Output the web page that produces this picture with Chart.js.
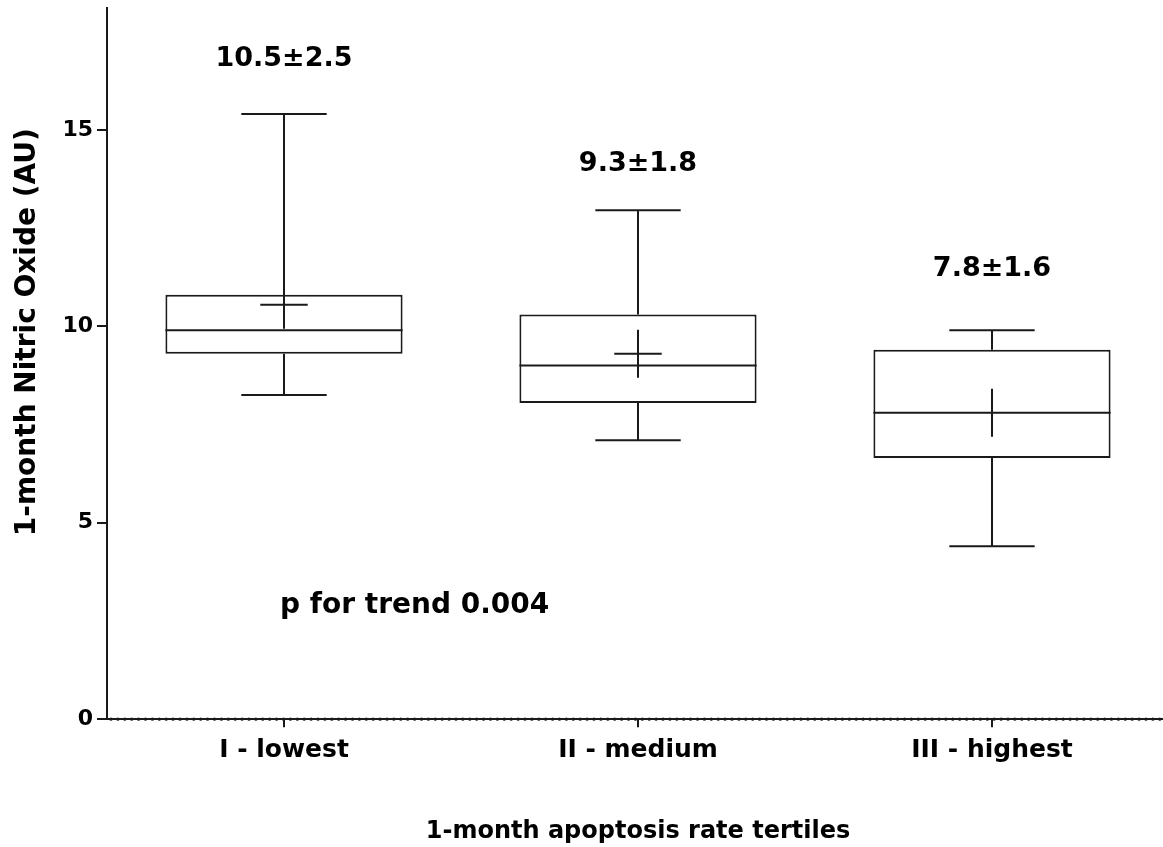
<!DOCTYPE html>
<html>
<head>
<meta charset="utf-8">
<title>1-month Nitric Oxide por tertiles de apoptosis</title>
<script src="https://cdn.jsdelivr.net/npm/chart.js@4.4.1/dist/chart.umd.min.js"></script>
<style>
  html, body { margin: 0; padding: 0; background: #ffffff; overflow: hidden; }
  canvas { display: block; }
</style>
</head>
<body>
<canvas id="boxChart" width="1169" height="847"></canvas>
<script>
// Categorías (tertiles)
const tertiles = ['I - lowest', 'II - medium', 'III - highest'];

// Valores del boxplot
const whiskerMin = [8.25, 7.1, 4.4];
const q1 = [9.3, 8.05, 6.65];
const median = [9.9, 9.0, 7.8];
const q3 = [10.8, 10.3, 9.4];
const whiskerMax = [15.4, 12.95, 9.9];
const mean = [10.55, 9.3, 7.8];

// Etiquetas media ± DE y su altura (en unidades del eje y)
const meanLabels = ['10.5±2.5', '9.3±1.8', '7.8±1.6'];
const meanLabelY = [16.8, 14.13, 11.47];
const trendText = 'p for trend 0.004';
const trendY = 2.9;

const yTicks = [0, 5, 10, 15];
const yTitle = '1-month Nitric Oxide (AU)';

const FONT = "'DejaVu Sans', Verdana, sans-serif";
const INK = '#1a1a1a';

// Bigotes, mediana, cruz de la media y textos
const boxExtras = {
    id: 'boxExtras',
    afterDatasetsDraw(chart) {
        const ctx = chart.ctx;
        const yScale = chart.scales.y;
        const meta = chart.getDatasetMeta(0);
        ctx.save();
        ctx.strokeStyle = INK;
        ctx.lineWidth = 2;
        meta.data.forEach((bar, i) => {
            const cx = bar.x;
            const half = bar.width / 2;
            const capHalf = bar.width * 0.18;
            const crossHalfW = bar.width * 0.1;
            const crossHalfH = 24;
            const pMin = yScale.getPixelForValue(whiskerMin[i]);
            const pQ1 = yScale.getPixelForValue(q1[i]);
            const pMed = yScale.getPixelForValue(median[i]);
            const pQ3 = yScale.getPixelForValue(q3[i]);
            const pMax = yScale.getPixelForValue(whiskerMax[i]);
            const pMean = yScale.getPixelForValue(mean[i]);

            ctx.beginPath();
            // bigote superior
            ctx.moveTo(cx, pQ3); ctx.lineTo(cx, pMax);
            ctx.moveTo(cx - capHalf, pMax); ctx.lineTo(cx + capHalf, pMax);
            // bigote inferior
            ctx.moveTo(cx, pQ1); ctx.lineTo(cx, pMin);
            ctx.moveTo(cx - capHalf, pMin); ctx.lineTo(cx + capHalf, pMin);
            // mediana
            ctx.moveTo(cx - half, pMed); ctx.lineTo(cx + half, pMed);
            // cruz de la media
            ctx.moveTo(cx - crossHalfW, pMean); ctx.lineTo(cx + crossHalfW, pMean);
            ctx.moveTo(cx, Math.max(pMean - crossHalfH, pQ3)); ctx.lineTo(cx, Math.min(pMean + crossHalfH, pQ1));
            ctx.stroke();

            // etiqueta media ± DE
            ctx.fillStyle = '#000';
            ctx.font = 'bold 27px ' + FONT;
            ctx.textAlign = 'center';
            ctx.textBaseline = 'middle';
            ctx.fillText(meanLabels[i], cx, yScale.getPixelForValue(meanLabelY[i]));
        });

        // p for trend
        ctx.font = 'bold 28px ' + FONT;
        ctx.textAlign = 'left';
        ctx.fillText(trendText, meta.data[0].x - 4, yScale.getPixelForValue(trendY));

        // título del eje y (algo desplazado hacia arriba, como en el original)
        ctx.translate(28, yScale.getPixelForValue(9.85));
        ctx.rotate(-Math.PI / 2);
        ctx.textAlign = 'center';
        ctx.font = 'bold 28px ' + FONT;
        ctx.fillText(yTitle, 0, 0);
        ctx.restore();
    },
    afterDraw(chart) {
        // eje x punteado
        const ctx = chart.ctx;
        const area = chart.chartArea;
        ctx.save();
        ctx.fillStyle = INK;
        for (let x = area.left + 4; x < chart.width; x += 6.9) {
            ctx.beginPath();
            ctx.arc(x, area.bottom, 1.6, 0, Math.PI * 2);
            ctx.fill();
        }
        ctx.restore();
    }
};

const ctx = document.getElementById('boxChart').getContext('2d');
const chart = new Chart(ctx, {
    type: 'bar',
    data: {
        labels: tertiles,
        datasets: [{
            label: 'IQR',
            data: q1.map((v, i) => [v, q3[i]]),
            backgroundColor: '#ffffff',
            borderColor: INK,
            borderWidth: 2,
            borderSkipped: false,
            barPercentage: 1,
            categoryPercentage: 0.67
        }]
    },
    options: {
        responsive: false,
        devicePixelRatio: 1,
        animation: false,
        layout: { padding: { top: 8, right: 0, bottom: 1, left: 0 } },
        plugins: {
            legend: { display: false },
            tooltip: { enabled: false }
        },
        scales: {
            x: {
                grid: { display: true, offset: false, drawOnChartArea: false, drawTicks: true, tickLength: 8, color: INK, lineWidth: 2 },
                border: { display: true, color: INK, width: 2 },
                ticks: { color: '#000', padding: 8, font: { family: FONT, size: 25, weight: 'bold' } },
                title: {
                    display: true,
                    text: '1-month apoptosis rate tertiles',
                    color: '#000',
                    font: { family: FONT, size: 24, weight: 'bold' },
                    padding: { top: 44, bottom: 0 }
                }
            },
            y: {
                min: 0,
                max: 18.1,
                afterBuildTicks: scale => {
                    scale.ticks = yTicks.map(v => ({ value: v }));
                },
                afterFit: scale => {
                    scale.width = 107;
                    scale.paddingTop = 0;
                },
                grid: { display: true, drawOnChartArea: false, drawTicks: true, tickLength: 10, color: INK, lineWidth: 2 },
                border: { display: true, color: INK, width: 2 },
                ticks: { color: '#000', padding: 4, font: { family: FONT, size: 22, weight: 'bold' } }
            }
        }
    },
    plugins: [boxExtras]
});
</script>
</body>
</html>
